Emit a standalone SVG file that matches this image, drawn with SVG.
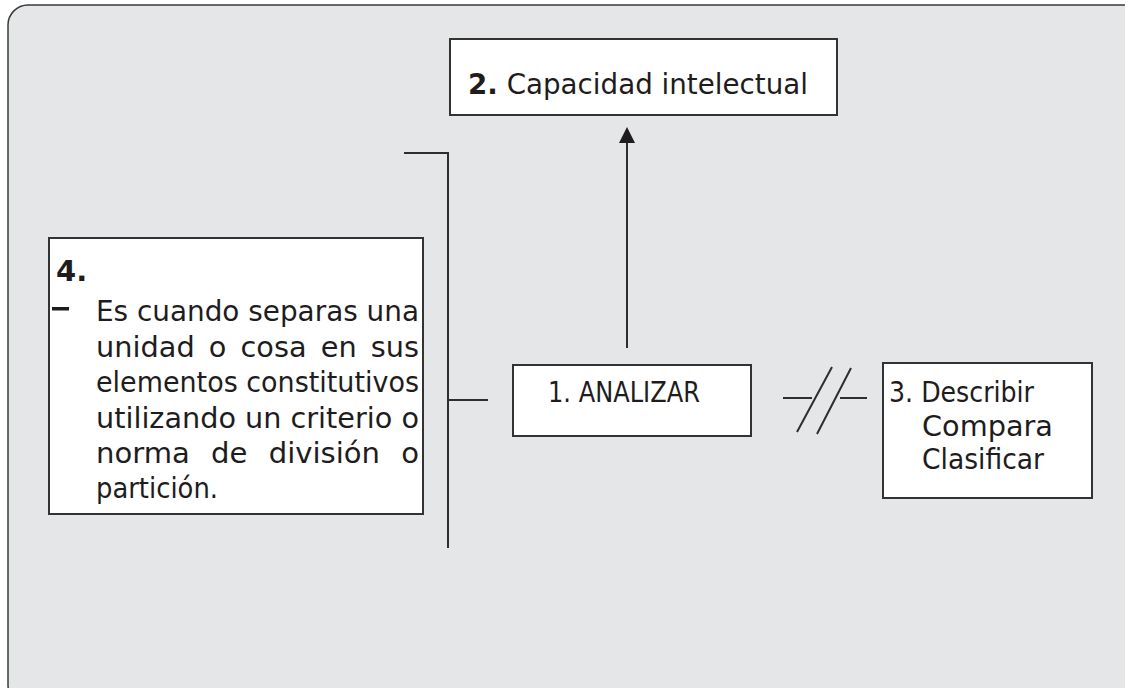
<svg xmlns="http://www.w3.org/2000/svg" width="1125" height="688" viewBox="0 0 1125 688">
  <style>
    .panel { fill: #e5e6e8; stroke: #3a3a3a; stroke-width: 1.5; }
    .box { fill: #ffffff; stroke: #333333; stroke-width: 2; }
    .ln { fill: none; stroke: #2e2e2e; stroke-width: 2; }
    .t { font-family: "DejaVu Sans", "Liberation Sans", sans-serif; fill: #1e1c1d; font-size: 29px; }
    .b { font-weight: bold; }
  </style>
  <rect class="panel" x="8" y="5" width="1140" height="700" rx="20" ry="20"/>

  <g id="connectors">
    <line class="ln" x1="627" y1="348" x2="627" y2="141"/>
    <polygon points="627,127 619,143 635,143" fill="#1e1c1d"/>
    <path class="ln" d="M404 153 H448 V548 M448 400 H488"/>
    <path class="ln" d="M783 398 H812 M840 398 H867" stroke-width="1.6"/>
    <path class="ln" d="M832 367 L797 432 M851 368 L817 434" stroke-width="1.6"/>
  </g>

  <g id="node2">
    <rect class="box" x="450" y="39" width="387" height="76"/>
    <text class="t" x="468" y="94" textLength="340" lengthAdjust="spacingAndGlyphs"><tspan class="b">2.</tspan> Capacidad intelectual</text>
  </g>

  <g id="node4">
    <rect class="box" x="49" y="238" width="374" height="276"/>
    <text class="t b" x="56" y="281" font-size="37">4.</text>
    <rect x="52" y="307" width="17" height="3.5" fill="#1e1c1d"/>
    <text class="t" x="96" y="321" textLength="323" lengthAdjust="spacingAndGlyphs">Es cuando separas una</text>
    <text class="t" x="96" y="357" word-spacing="5" textLength="323" lengthAdjust="spacingAndGlyphs">unidad o cosa en sus</text>
    <text class="t" x="96" y="392" textLength="323" lengthAdjust="spacingAndGlyphs">elementos constitutivos</text>
    <text class="t" x="96" y="428" textLength="323" lengthAdjust="spacingAndGlyphs">utilizando un criterio o</text>
    <text class="t" x="96" y="463" word-spacing="12" textLength="323" lengthAdjust="spacingAndGlyphs">norma de división o</text>
    <text class="t" x="96" y="498" textLength="122" lengthAdjust="spacingAndGlyphs">partición.</text>
  </g>

  <g id="node1">
    <rect class="box" x="513" y="365" width="238" height="71"/>
    <text class="t" x="548" y="402" font-size="28" textLength="152" lengthAdjust="spacingAndGlyphs">1. ANALIZAR</text>
  </g>

  <g id="node3">
    <rect class="box" x="883" y="363" width="209" height="135"/>
    <text class="t" x="889" y="402" textLength="145" lengthAdjust="spacingAndGlyphs">3. Describir</text>
    <text class="t" x="922" y="436" font-size="27" textLength="131" lengthAdjust="spacingAndGlyphs">Compara</text>
    <text class="t" x="922" y="469" font-size="27" textLength="122" lengthAdjust="spacingAndGlyphs">Clasificar</text>
  </g>
</svg>
